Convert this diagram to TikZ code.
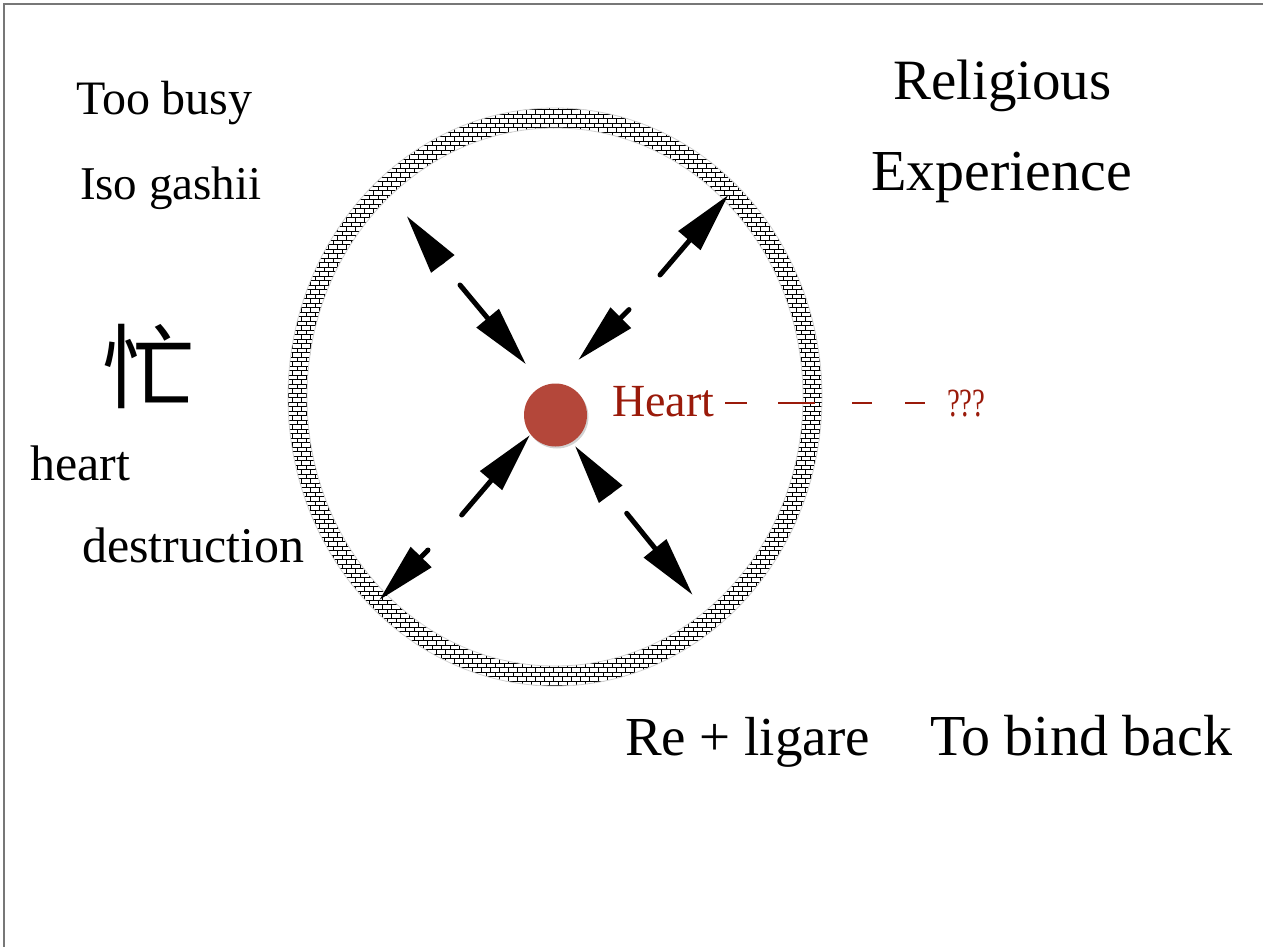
\documentclass[tikz,border=0pt]{standalone}
\usepackage{fontspec}
\setmainfont{Liberation Serif}
\newfontfamily\cjk{Noto Sans CJK SC}
\usetikzlibrary{arrows.meta,patterns,shadows}
\pgfdeclarepatternformonly{smallbricks}{\pgfqpoint{-1pt}{-1pt}}{\pgfqpoint{10pt}{10pt}}{\pgfqpoint{9pt}{9pt}}{%
  \pgfsetlinewidth{1pt}%
  \pgfpathmoveto{\pgfqpoint{0pt}{0pt}}\pgfpathlineto{\pgfqpoint{9pt}{0pt}}%
  \pgfpathmoveto{\pgfqpoint{0pt}{4.5pt}}\pgfpathlineto{\pgfqpoint{9pt}{4.5pt}}%
  \pgfpathmoveto{\pgfqpoint{0pt}{0pt}}\pgfpathlineto{\pgfqpoint{0pt}{4.5pt}}%
  \pgfpathmoveto{\pgfqpoint{4.5pt}{4.5pt}}\pgfpathlineto{\pgfqpoint{4.5pt}{9pt}}%
  \pgfusepath{stroke}}
\definecolor{heartfill}{HTML}{B4473A}
\definecolor{heartred}{HTML}{9A1A0A}
\definecolor{framegray}{HTML}{777777}
\tikzset{
  lbl/.style={anchor=base west, inner sep=0pt, outer sep=0pt},
  bigarrow/.style={line width=5pt, line cap=round, -{Triangle[length=60pt,width=28pt]}},
  headonly/.style={line width=5pt, line cap=butt, -{Triangle[length=60pt,width=28pt]}},
  dashline/.style={heartred, line width=2.5pt, dash pattern=on 22pt off 31pt on 37pt off 37pt on 20pt off 33pt on 20pt off 200pt},
}
\begin{document}
\begin{tikzpicture}[x=1pt,y=-1pt]
\useasboundingbox (0,0) rectangle (1263,947);
\fill[white] (0,0) rectangle (1263,947);
% frame
\coordinate (f0) at (3.5,947);
\coordinate (f1) at (3.5,4);
\coordinate (f2) at (1263,4);
\draw[framegray, line width=2pt] (f0) -- (f1) -- (f2);

% ring
\coordinate (c) at (555,397);
\fill[white] (c) ellipse [x radius=267, y radius=289];
\fill[pattern=smallbricks, even odd rule] (c) ellipse [x radius=267, y radius=289] (c) ellipse [x radius=248, y radius=269];
\draw[gray!35, line width=0.8pt] (c) ellipse [x radius=267, y radius=289];
\draw[gray!35, line width=0.8pt] (c) ellipse [x radius=248, y radius=269];

% heart circle
\node[circle, fill=heartfill, minimum size=63pt, inner sep=0pt,
      drop shadow={shadow xshift=1.5pt, shadow yshift=-2pt, opacity=0.35}] (core) at (555.5,415) {};

% arrows
\coordinate (ulh0) at (442.8,263.9); \coordinate (ulh1) at (406.7,216);
\coordinate (uli0) at (460,285);     \coordinate (uli1) at (526,364.3);
\coordinate (uro0) at (660,275);     \coordinate (uro1) at (728.3,195);
\coordinate (uri0) at (629,309.6);   \coordinate (uri1) at (578.3,360);
\coordinate (lli0) at (461.7,515);   \coordinate (lli1) at (530,435);
\coordinate (llo0) at (428,550);     \coordinate (llo1) at (379.3,600);
\coordinate (lrh0) at (610.7,494.2); \coordinate (lrh1) at (575,446);
\coordinate (lro0) at (626.7,513.3); \coordinate (lro1) at (692.7,595);
\draw[headonly] (ulh0) -- (ulh1);
\draw[bigarrow] (uli0) -- (uli1);
\draw[bigarrow] (uro0) -- (uro1);
\draw[bigarrow] (uri0) -- (uri1);
\draw[bigarrow] (lli0) -- (lli1);
\draw[bigarrow] (llo0) -- (llo1);
\draw[headonly] (lrh0) -- (lrh1);
\draw[bigarrow] (lro0) -- (lro1);

% texts
\node[lbl, font=\fontsize{48}{48}\selectfont] (busy) at (76,115) {Too busy};
\node[lbl, font=\fontsize{47}{47}\selectfont] (iso) at (80,199) {Iso gashii};
\node[lbl, font=\fontsize{57}{57}\selectfont] (rel) at (893,100) {Religious};
\node[lbl, font=\fontsize{58}{58}\selectfont] (exp) at (871,190) {Experience};
\node[inner sep=0pt, font=\cjk\fontsize{92}{92}\selectfont] (mang) at (148,366) {忙};
\node[lbl, font=\fontsize{50}{50}\selectfont] (hrt) at (30,480) {heart};
\node[lbl, font=\fontsize{50}{50}\selectfont] (des) at (82,562) {destruction};
\node[lbl, font=\fontsize{55}{55}\selectfont] (re) at (625,755) {Re + ligare};
\node[lbl, font=\fontsize{58}{58}\selectfont] (bind) at (930,755) {To bind back};
\node[lbl, text=heartred, font=\fontsize{46}{46}\selectfont] (heart) at (612,416) {Heart};
\node[lbl, text=heartred, font=\fontsize{40}{40}\selectfont, xscale=0.72] (qq) at (947,416) {???};
\coordinate (d0) at (725,403);
\coordinate (d1) at (925,403);
\draw[dashline] (d0) -- (d1);
\end{tikzpicture}
\end{document}
